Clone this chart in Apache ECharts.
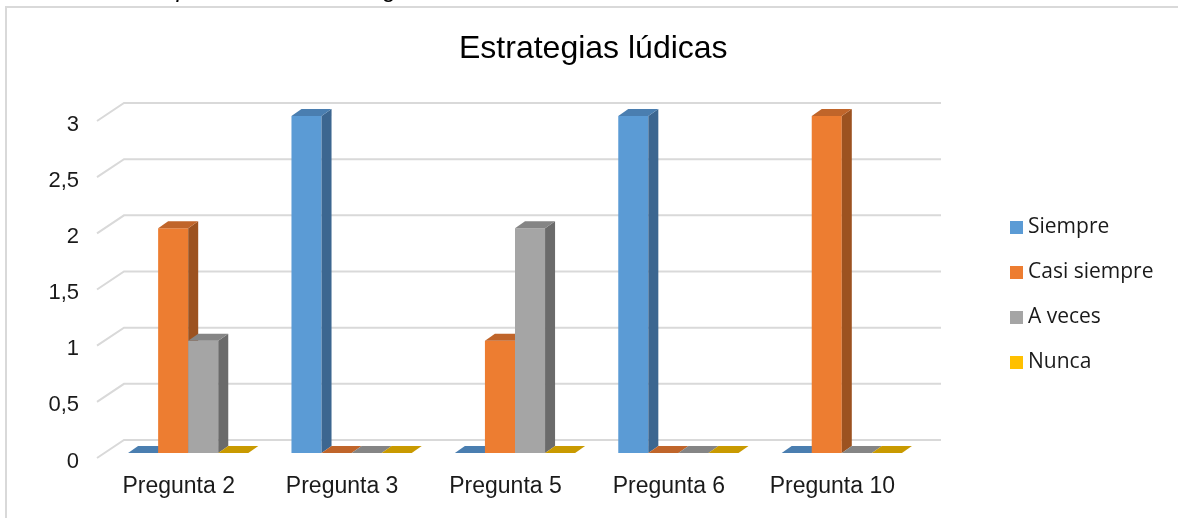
<!DOCTYPE html>
<html>
<head>
<meta charset="utf-8">
<script src="https://cdn.jsdelivr.net/npm/echarts@6/dist/echarts.min.js"></script>
<style>
  html, body { margin: 0; padding: 0; background: #ffffff; }
  #chart { width: 1178px; height: 518px; }
</style>
</head>
<body>
<div id="chart"></div>
<script>
// Categories and answer counts per option
const categories = ['Pregunta 2', 'Pregunta 3', 'Pregunta 5', 'Pregunta 6', 'Pregunta 10'];
const siempre     = [0, 3, 0, 3, 0];
const casiSiempre = [2, 0, 1, 0, 3];
const aVeces      = [1, 0, 2, 0, 0];
const nunca       = [0, 0, 0, 0, 0];
const yTicks      = [0, 0.5, 1, 1.5, 2, 2.5, 3];

// Face shades for each series: front, top, side
const shades = [
  { front: '#5B9BD5', top: '#4A7EB0', side: '#3C6690' },
  { front: '#ED7D31', top: '#C0652A', side: '#9C5220' },
  { front: '#A5A5A5', top: '#858585', side: '#6B6B6B' },
  { front: '#FFC000', top: '#C99A00', side: '#A07A00' }
];

// Perspective offsets (pixels)
const WALL_DX = 27, WALL_DY = -18;   // floor front edge -> back wall
const ROW_DX = 9.5, ROW_DY = -5;     // floor front edge -> bar front faces
const BAR_DX = 10, BAR_DY = -7;      // bar front face -> bar back face

function wallRenderer(params, api) {
  const cs = params.coordSys;
  const y = api.coord([0, api.value(1)])[1];
  const xl = cs.x, xr = cs.x + cs.width;
  return {
    type: 'polyline',
    silent: true,
    shape: { points: [[xl, y], [xl + WALL_DX, y + WALL_DY], [xr + WALL_DX, y + WALL_DY]] },
    style: { stroke: '#D9D9D9', lineWidth: 2, fill: null }
  };
}

function barRenderer(slot) {
  const c = shades[slot];
  return function (params, api) {
    const i = api.value(0), v = api.value(1);
    const base = api.coord([i, 0]);
    const top = api.coord([i, v]);
    const band = api.size([1, 0])[0];
    const w = band * 0.184;
    const x0 = base[0] - 2 * w + slot * w + ROW_DX;
    const x1 = x0 + w;
    const yb = base[1] + ROW_DY;
    const yt = top[1] + ROW_DY;
    const children = [];
    if (yb - yt > 0.5) {
      children.push({
        type: 'rect',
        shape: { x: x0, y: yt, width: w, height: yb - yt },
        style: { fill: c.front }
      });
      children.push({
        type: 'polygon',
        shape: { points: [[x1, yb], [x1 + BAR_DX, yb + BAR_DY], [x1 + BAR_DX, yt + BAR_DY], [x1, yt]] },
        style: { fill: c.side }
      });
    }
    children.push({
      type: 'polygon',
      shape: { points: [[x0, yt], [x1, yt], [x1 + BAR_DX, yt + BAR_DY], [x0 + BAR_DX, yt + BAR_DY]] },
      style: { fill: c.top }
    });
    return { type: 'group', children: children };
  };
}

function toPairs(arr) { return arr.map((v, i) => [i, v]); }

const seriesNames = ['Siempre', 'Casi siempre', 'A veces', 'Nunca'];
const seriesValues = [siempre, casiSiempre, aVeces, nunca];

const chart = echarts.init(document.getElementById('chart'), null, { renderer: 'canvas' });

const barSeries = seriesValues.map((vals, k) => ({
  name: seriesNames[k],
  type: 'custom',
  z: 3,
  itemStyle: { color: shades[k].front },
  renderItem: barRenderer(k),
  encode: { x: 0, y: 1 },
  data: toPairs(vals)
}));

chart.setOption({
  animation: false,
  textStyle: { fontFamily: 'Liberation Sans' },
  title: {
    text: 'Estrategias lúdicas',
    left: 454,
    top: 28,
    textStyle: { fontFamily: 'Liberation Sans', fontSize: 32, fontWeight: 'normal', color: '#000000' }
  },
  graphic: [
    {
      type: 'rect',
      silent: true,
      shape: { x: 6, y: 7, width: 1400, height: 700 },
      style: { fill: null, stroke: '#D9D9D9', lineWidth: 2 }
    },
    {
      type: 'text',
      silent: true,
      x: 50,
      y: -10,
      style: {
        text: 'Gráfico 4: Aplicación de estrategias lúdicas',
        font: 'italic 24px "Liberation Sans"',
        fill: '#000000',
        textVerticalAlign: 'middle'
      }
    }
  ],
  legend: {
    data: seriesNames,
    orient: 'vertical',
    left: 1005,
    top: 212,
    icon: 'rect',
    itemWidth: 13,
    itemHeight: 13,
    itemGap: 24,
    textStyle: { fontFamily: 'Open Sans', fontSize: 21, color: '#1a1a1a' }
  },
  grid: { left: 97, right: 264, top: 121, bottom: 60 },
  xAxis: {
    type: 'category',
    data: categories,
    axisLine: { show: false },
    axisTick: { show: false },
    axisLabel: { fontSize: 23, color: '#1a1a1a', margin: 17, fontFamily: 'Liberation Sans' }
  },
  yAxis: {
    type: 'value',
    min: 0,
    max: 3,
    interval: 0.5,
    splitLine: { show: false },
    axisLine: { show: false },
    axisTick: { show: false },
    axisLabel: {
      color: '#1a1a1a',
      margin: 18,
      formatter: v => '{n|' + String(v).replace('.', ',') + '}',
      rich: {
        n: { fontSize: 22, fontFamily: 'Liberation Sans', color: '#1a1a1a', padding: [7, 0, 0, 0] }
      }
    }
  },
  series: barSeries.concat([{
    name: 'pared',
    type: 'custom',
    z: 1,
    silent: true,
    itemStyle: { color: '#D9D9D9' },
    renderItem: wallRenderer,
    encode: { x: 0, y: 1 },
    data: yTicks.map(v => [0, v])
  }])
});
</script>
</body>
</html>
